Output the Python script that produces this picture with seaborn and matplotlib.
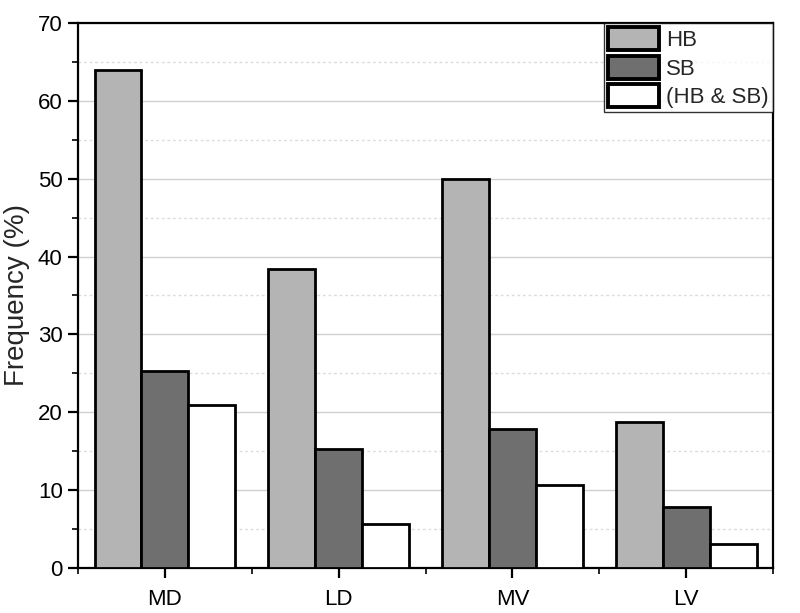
import numpy as np
import pandas as pd
import matplotlib
matplotlib.use("Agg")
import matplotlib.pyplot as plt
import seaborn as sns
from matplotlib.ticker import MultipleLocator, FixedLocator

categories = ["MD", "LD", "MV", "LV"]
groups     = ["HB", "SB", "(HB & SB)"]
hb_vals    = [64.0, 38.4, 50.0, 18.7]
sb_vals    = [25.3, 15.3, 17.8, 7.8]
both_vals  = [21.0, 5.7, 10.6, 3.1]
colors     = ["#b4b4b4", "#6f6f6f", "#ffffff"]

df = pd.DataFrame({
    "region": categories * 3,
    "group":  [groups[0]] * 4 + [groups[1]] * 4 + [groups[2]] * 4,
    "freq":   hb_vals + sb_vals + both_vals,
})

sns.set_style("white")
plt.rcParams["font.family"] = ["Liberation Sans", "DejaVu Sans"]

fig = plt.figure(figsize=(8, 6.13), dpi=100)
ax = fig.add_axes([0.0975, 0.0734, 0.8688, 0.8891])

sns.barplot(
    data=df, x="region", y="freq", hue="group",
    order=categories, hue_order=groups,
    palette=colors, edgecolor="black", linewidth=2,
    width=0.81, ax=ax, zorder=3,
)

ax.set_xlim(-0.5, 3.5)
ax.set_ylim(0, 70)
ax.yaxis.set_major_locator(MultipleLocator(10))
ax.yaxis.set_minor_locator(MultipleLocator(5))
ax.xaxis.set_minor_locator(FixedLocator(np.arange(-0.5, 4, 1.0)))

ax.grid(True, which="major", axis="y", color="#d0d0d0", linewidth=1, linestyle="-", zorder=0)
ax.grid(True, which="minor", axis="y", color="#dcdcdc", linewidth=1, linestyle=(0, (2, 2)), zorder=0)
ax.grid(False, axis="x", which="both")
ax.set_axisbelow(True)

for side in ["left", "bottom", "right", "top"]:
    ax.spines[side].set_visible(True)
    ax.spines[side].set_color("black")
    ax.spines[side].set_linewidth(1.6)

ax.tick_params(axis="both", which="major", direction="out", length=7, width=1.6,
               labelsize=16, colors="black", left=True, bottom=True)
ax.tick_params(axis="both", which="minor", direction="out", length=4, width=1.4,
               left=True, bottom=True)
ax.tick_params(axis="x", pad=8)
ax.tick_params(axis="y", pad=4)

ax.set_xlabel("")
ax.set_ylabel("Frequency (%)", fontsize=20, labelpad=6)

handles, labels = ax.get_legend_handles_labels()
leg = ax.legend(handles, labels, loc="upper right", fontsize=16,
                frameon=True, fancybox=False, borderaxespad=0,
                handlelength=2.3, handleheight=1.2, handletextpad=0.3,
                labelspacing=0.2, borderpad=0.2)
leg.get_frame().set_edgecolor("black")
leg.get_frame().set_linewidth(1.0)
for p in leg.get_patches():
    p.set_linewidth(2.8)
    p.set_edgecolor("black")

fig.savefig("out.png", dpi=100)
